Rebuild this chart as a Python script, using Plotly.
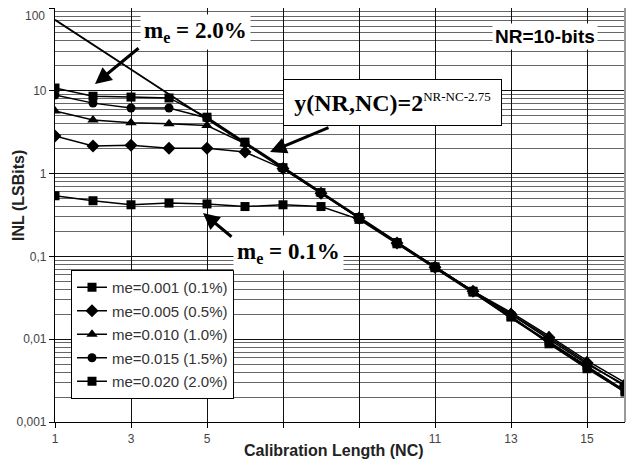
import plotly.graph_objects as go

# ---------------- data ----------------
nc = list(range(1, 17))
ref_line = [72, 36, 18, 9.0, 4.6, 2.3, 1.15, 0.58, 0.29, 0.145, 0.073, 0.037, 0.018, 0.0092, 0.0046, 0.0023]
me001 = [0.54, 0.47, 0.42, 0.44, 0.43, 0.40, 0.42, 0.40, 0.28, 0.142, 0.073, 0.037, 0.0185, 0.0095, 0.0048, 0.0024]
me005 = [2.85, 2.15, 2.2, 2.03, 2.03, 1.82, 1.15, 0.58, 0.29, 0.145, 0.074, 0.038, 0.020, 0.0105, 0.0052, 0.0027]
me010 = [5.7, 4.45, 4.1, 4.0, 3.8, 2.3, 1.17, 0.58, 0.29, 0.146, 0.075, 0.038, 0.021, 0.011, 0.0055, 0.0030]
me015 = [8.9, 7.1, 6.2, 6.2, 4.7, 2.35, 1.17, 0.59, 0.29, 0.146, 0.075, 0.038, 0.020, 0.0100, 0.0050, 0.0028]
me020 = [10.8, 8.6, 8.4, 8.2, 4.8, 2.4, 1.18, 0.59, 0.295, 0.147, 0.075, 0.038, 0.019, 0.0088, 0.0044, 0.0023]

series_names = ["me=0.001 (0.1%)", "me=0.005 (0.5%)", "me=0.010 (1.0%)",
                "me=0.015 (1.5%)", "me=0.020 (2.0%)"]
series_values = [me001, me005, me010, me015, me020]
series_symbols = ["square", "diamond", "triangle-up", "circle", "square"]
series_sizes = [9, 10, 10, 9, 9]

x_tickvals = [1, 3, 5, 7, 9, 11, 13, 15]
x_ticktext = ["1", "3", "5", "", "", "11", "13", "15"]
y_tickvals = [0.001, 0.01, 0.1, 1, 10, 100]
y_ticktext = ["0,001", "0,01", "0,1", "1", "10", ""]
top_label = "100"

# ---------------- figure ----------------
# The page body has an 8px margin, so the figure is drawn offset by (8, 8)
OFF = 8
W, H = 638, 465
# plot area in window pixels: x 55..625, y 8..422
PX0, PX1, PY0, PY1 = 55, 625, 8, 422
L = PX0 - OFF
T = PY0 - OFF
R = W - (PX1 - OFF)
B = H - (PY1 - OFF)
PW, PH = PX1 - PX0, PY1 - PY0


def px(xp):
    return (xp - PX0) / PW


def py(yp):
    return (PY1 - yp) / PH


fig = go.Figure()

fig.add_trace(go.Scatter(x=nc, y=ref_line, mode="lines",
                         line=dict(color="black", width=1.8),
                         showlegend=False, hoverinfo="skip"))

for i, (name, vals, sym, sz) in enumerate(zip(series_names, series_values,
                                              series_symbols, series_sizes)):
    fig.add_trace(go.Scatter(
        x=nc, y=vals, mode="lines+markers", name=name,
        legendgroup=f"g{i}",
        line=dict(color="black", width=1.5),
        marker=dict(symbol=sym, size=sz, color="black",
                    line=dict(color="black", width=0)),
    ))

minor_vals = [k * 10 ** d for d in range(-3, 2) for k in range(2, 10)]

fig.update_xaxes(
    range=[1, 16], tickmode="array", tickvals=x_tickvals, ticktext=x_ticktext,
    showgrid=True, gridcolor="#111", gridwidth=1,
    showline=True, linecolor="black", linewidth=1.2,
    ticks="outside", ticklen=5, tickcolor="black",
    tickfont=dict(family="Liberation Sans", size=12, color="#444"),
    zeroline=False, automargin=False,
)
fig.update_yaxes(
    type="log", range=[-3, 2], tickmode="array",
    tickvals=y_tickvals, ticktext=y_ticktext,
    showgrid=True, gridcolor="#111", gridwidth=1,
    minor=dict(tickmode="array", tickvals=minor_vals, showgrid=True,
               gridcolor="#666", gridwidth=1, ticks=""),
    showline=True, linecolor="black", linewidth=1.2,
    ticks="outside", ticklen=5, tickcolor="black",
    tickfont=dict(family="Liberation Sans", size=12, color="#444"),
    zeroline=False, automargin=False,
)

serif = "Liberation Serif"
C = dict(xanchor="center", yanchor="middle", showarrow=False,
         xref="paper", yref="paper")
ann = []
# top tick label (would be clipped at the figure edge)
ann.append(dict(xref="paper", yref="paper", x=px(46), y=1.0,
                xanchor="right", yanchor="top", showarrow=False,
                text=top_label, borderpad=0,
                font=dict(family="Liberation Sans", size=12, color="#444")))
# axis titles
ann.append(dict(**C, x=px(334), y=py(450),
                text="<b>Calibration Length (NC)</b>",
                font=dict(family="Liberation Sans", size=16, color="#222")))
ann.append(dict(**C, x=px(18), y=py(196),
                text="<b>INL (LSBits)</b>", textangle=-90,
                font=dict(family="Liberation Sans", size=16, color="#222")))
# text boxes
ann.append(dict(**C, x=px(195), y=py(32),
                text="<b>m<sub>e</sub> = 2.0%</b>",
                bgcolor="white", borderpad=3,
                font=dict(family=serif, size=23, color="black")))
ann.append(dict(**C, x=px(288), y=py(253),
                text="<b>m<sub>e</sub> = 0.1%</b>",
                bgcolor="white", borderpad=3,
                font=dict(family=serif, size=23, color="black")))
ann.append(dict(**C, x=px(545), y=py(37),
                text="<b>NR=10-bits</b>",
                bgcolor="white", borderpad=2,
                font=dict(family="Liberation Sans", size=19, color="black")))
ann.append(dict(**C, x=px(392.5), y=py(102.5),
                text="<b>y(NR,NC)=2</b><sup><span style='font-size:13px'>NR-NC-2.75</span></sup>",
                width=205, height=33,
                bgcolor="white", bordercolor="black", borderwidth=1, borderpad=6,
                font=dict(family=serif, size=24, color="black")))
# arrows
for head, tail in [((95, 84), (140, 47)),
                   ((270, 152), (330, 127)),
                   ((203, 213), (233, 238))]:
    ann.append(dict(xref="paper", yref="paper", x=px(head[0]), y=py(head[1]),
                    ax=tail[0] - head[0], ay=tail[1] - head[1],
                    text="", showarrow=True, arrowhead=2, arrowsize=1.1,
                    arrowwidth=3, arrowcolor="black"))

fig.update_layout(
    width=W, height=H,
    margin=dict(l=L, r=R, t=T, b=B, autoexpand=False),
    paper_bgcolor="white", plot_bgcolor="white",
    font=dict(family="Liberation Sans"),
    showlegend=True,
    legend=dict(x=px(71), y=py(270), xanchor="left", yanchor="top",
                bgcolor="white", bordercolor="black", borderwidth=1,
                font=dict(family="Liberation Sans", size=15, color="#333"),
                traceorder="grouped", tracegroupgap=1),
    annotations=ann,
    shapes=[dict(type="line", xref="paper", yref="paper", x0=1, x1=1, y0=0, y1=1,
                 line=dict(color="#999", width=2))],
)

fig.write_html("out.html")
